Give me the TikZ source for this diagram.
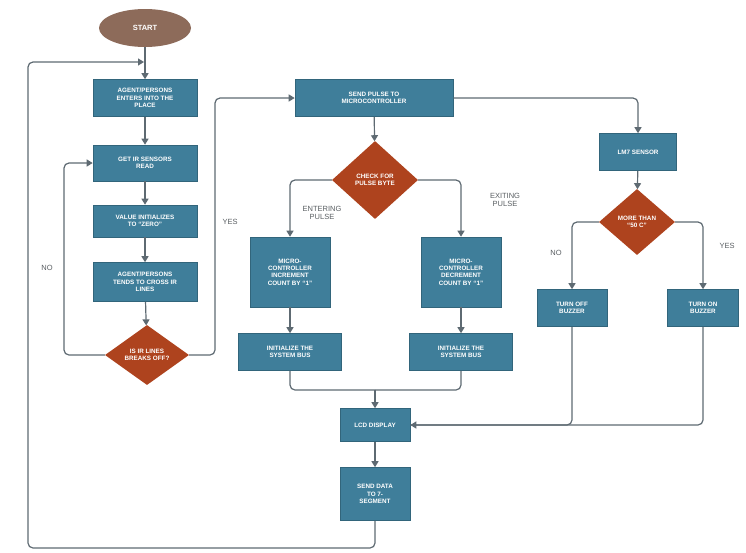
\documentclass[tikz,border=0pt]{standalone}
\usepackage{fontspec}
\setmainfont{Liberation Sans}
\usetikzlibrary{shapes.geometric,arrows.meta}
\definecolor{boxc}{HTML}{3F7E9A}
\definecolor{diac}{HTML}{AE431E}
\definecolor{startc}{HTML}{8D6B5A}
\definecolor{linec}{HTML}{5E6A72}
\definecolor{labc}{HTML}{5A5F63}
\tikzset{
  procbox/.style={draw=boxc!80!black,line width=0.6pt,fill=boxc,text=white,font=\fontsize{6.3}{7.3}\selectfont\bfseries,align=center,inner sep=1pt},
  decbox/.style={shape=diamond,fill=diac,text=white,font=\fontsize{6.3}{7.3}\selectfont\bfseries,align=center,inner sep=0pt},
  conn/.style={draw=linec,line width=1.2pt,rounded corners=5pt,-{Triangle[width=7pt,length=6pt]}},
  plain/.style={draw=linec,line width=1.2pt,rounded corners=5pt},
  lab/.style={text=labc,font=\fontsize{7.5}{8.5}\selectfont,align=center}
}
\begin{document}
\begin{tikzpicture}[x=1pt,y=-1pt]
\useasboundingbox[fill=white] (0,0) rectangle (746,552);
% nodes
\node[ellipse,fill=startc,text=white,font=\fontsize{7.5}{8.5}\selectfont\bfseries,minimum width=92pt,minimum height=38pt,inner sep=0pt] (start) at (145,28) {START};
\node[procbox,minimum width=104pt,minimum height=37pt] (b1) at (145,98) {AGENT/PERSONS\\ENTERS INTO THE\\PLACE};
\node[procbox,minimum width=104pt,minimum height=36pt] (b2) at (145,163) {GET IR SENSORS\\READ};
\node[procbox,minimum width=104pt,minimum height=32pt] (b3) at (145,221) {VALUE INITIALIZES\\TO ``ZERO''};
\node[procbox,minimum width=104pt,minimum height=39pt] (b4) at (145,282) {AGENT/PERSONS\\TENDS TO CROSS IR\\LINES};
\node[decbox,minimum width=84pt,minimum height=60pt] (d1) at (147,355) {IS IR LINES\\BREAKS OFF?};
\node[procbox,minimum width=158pt,minimum height=37pt] (sp) at (374,98) {SEND PULSE TO\\MICROCONTROLLER};
\node[decbox,minimum width=86pt,minimum height=78pt] (d2) at (375,180) {CHECK FOR\\PULSE BYTE};
\node[procbox,minimum width=80pt,minimum height=70pt] (inc) at (290,272) {MICRO-\\CONTROLLER\\INCREMENT\\COUNT BY ``1''};
\node[procbox,minimum width=80pt,minimum height=70pt] (dec) at (461,272) {MICRO-\\CONTROLLER\\DECREMENT\\COUNT BY ``1''};
\node[procbox,minimum width=103pt,minimum height=37pt] (i1) at (290,352) {INITIALIZE THE\\SYSTEM BUS};
\node[procbox,minimum width=103pt,minimum height=37pt] (i2) at (461,352) {INITIALIZE THE\\SYSTEM BUS};
\node[procbox,minimum width=70pt,minimum height=33pt] (lcd) at (375,425) {LCD DISPLAY};
\node[procbox,minimum width=70pt,minimum height=53pt] (sd) at (375,494) {SEND DATA\\TO 7-\\SEGMENT};
\node[procbox,minimum width=77pt,minimum height=37pt] (lm) at (638,152) {LM7 SENSOR};
\node[decbox,minimum width=76pt,minimum height=66pt] (d3) at (637,222) {MORE THAN\\``50 C''};
\node[procbox,minimum width=70pt,minimum height=37pt] (off) at (572,308) {TURN OFF\\BUZZER};
\node[procbox,minimum width=71pt,minimum height=37pt] (on) at (703,308) {TURN ON\\BUZZER};
% labels
\node[lab] (lyes1) at (230,222) {YES};
\node[lab] (lno1) at (47,268) {NO};
\node[lab] (lent) at (322,213) {ENTERING\\PULSE};
\node[lab] (lexi) at (505,200) {EXITING\\PULSE};
\node[lab] (lno2) at (556,253) {NO};
\node[lab] (lyes2) at (727,246) {YES};
% helper coordinates
\coordinate (nol) at (64,355);
\coordinate (yesr) at (215,355);
\coordinate (mrg) at (375,390);
\coordinate (lbot) at (28,548);
\coordinate (ltop) at (28,62);
\coordinate (jn) at (144,62);
% connectors
\draw[conn] (start) -- (b1);
\draw[conn] (b1) -- (b2);
\draw[conn] (b2) -- (b3);
\draw[conn] (b3) -- (b4);
\draw[conn] (b4) -- (d1);
\draw[conn] (d1.west) -- (nol) |- (b2.west);
\draw[conn] (d1.east) -- (yesr) |- (sp.west);
\draw[conn] (sp) -- (d2);
\draw[conn] (sp.east) -| (lm.north);
\draw[conn] (d2.west) -| (inc.north);
\draw[conn] (d2.east) -| (dec.north);
\draw[conn] (inc) -- (i1);
\draw[conn] (dec) -- (i2);
\draw[plain] (i1.south) |- (mrg);
\draw[plain] (i2.south) |- (mrg);
\draw[conn] (mrg) -- (lcd.north);
\draw[conn] (lcd) -- (sd);
\draw[conn] (sd.south) |- (lbot) -- (ltop) -- (jn);
\draw[conn] (lm) -- (d3);
\draw[conn] (d3.west) -| (off.north);
\draw[conn] (d3.east) -| (on.north);
\draw[plain] (off.south) |- (lcd.east);
\draw[conn] (on.south) |- (lcd.east);
\end{tikzpicture}
\end{document}
